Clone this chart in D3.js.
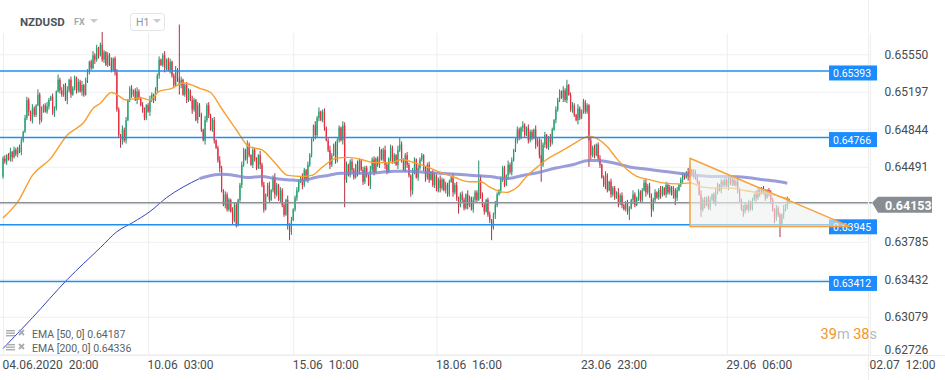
<!DOCTYPE html>
<html><head><meta charset="utf-8">
<script src="https://cdn.jsdelivr.net/npm/d3@7"></script>
<style>body{margin:0;background:#fff;} svg{display:block;font-family:Roboto,"Noto Sans",sans-serif;}</style>
</head><body>
<svg id="chart" width="945" height="380"></svg>
<script>
// ---- data (prices in units of 0.0001) ----
const symbol = "NZDUSD";
const market = "FX";
const interval = "H1";
const firstOpen = 6440;
const closes = [
6457,6454,6460,6456,6463,6458,6465,6461,6467,6463,
6474,6482,6495,6512,6501,6493,6504,6498,6507,6517,
6493,6503,6507,6501,6506,6512,6515,6500,6504,6520,
6531,6521,6517,6526,6512,6521,6531,6517,6523,6533,
6521,6529,6520,6526,6517,6531,6538,6548,6542,6554,
6550,6561,6554,6564,6550,6557,6545,6554,6548,6540,
6551,6538,6503,6479,6474,6484,6474,6493,6512,6523,
6517,6521,6512,6520,6514,6507,6503,6495,6507,6501,
6512,6517,6512,6521,6535,6550,6545,6554,6542,6550,
6540,6548,6535,6526,6540,6533,6526,6531,6517,6526,
6512,6521,6512,6503,6512,6493,6507,6498,6484,6474,
6493,6507,6498,6484,6493,6474,6467,6455,6448,6427,
6413,6423,6409,6418,6407,6399,6413,6394,6418,6432,
6451,6465,6456,6470,6460,6451,6465,6456,6448,6460,
6451,6432,6409,6423,6432,6418,6427,6439,6423,6432,
6418,6427,6413,6404,6418,6394,6388,6399,6409,6420,
6427,6435,6439,6432,6446,6437,6451,6460,6474,6488,
6479,6495,6501,6493,6501,6486,6474,6465,6451,6460,
6470,6455,6474,6486,6474,6488,6437,6451,6441,6454,
6446,6439,6451,6444,6455,6446,6435,6448,6441,6432,
6446,6456,6444,6457,6451,6465,6456,6465,6451,6444,
6457,6467,6454,6460,6451,6465,6470,6456,6446,6460,
6451,6441,6427,6444,6456,6439,6448,6456,6460,6446,
6439,6451,6437,6444,6432,6441,6427,6437,6429,6437,
6427,6432,6423,6435,6439,6425,6432,6420,6413,6423,
6418,6410,6423,6413,6420,6409,6418,6425,6418,6437,
6423,6413,6407,6418,6404,6399,6392,6404,6413,6423,
6427,6437,6448,6432,6441,6451,6444,6455,6465,6474,
6484,6476,6486,6488,6479,6486,6474,6482,6476,6484,
6470,6474,6460,6451,6470,6479,6467,6476,6472,6484,
6493,6503,6512,6520,6514,6521,6512,6526,6517,6503,
6507,6498,6493,6504,6495,6502,6510,6501,6507,6474,
6460,6467,6460,6470,6457,6451,6439,6432,6441,6427,
6435,6423,6429,6420,6425,6415,6422,6413,6409,6415,
6407,6410,6418,6423,6413,6420,6425,6418,6427,6434,
6425,6431,6423,6409,6418,6425,6420,6427,6423,6429,
6423,6432,6425,6430,6423,6427,6420,6427,6432,6437,
6441,6439,6444,6440,6446,6441,6444,6439,6435,6423,
6409,6418,6413,6420,6411,6418,6423,6416,6425,6432,
6427,6435,6432,6437,6431,6439,6434,6437,6432,6435,
6427,6418,6409,6407,6413,6409,6415,6410,6418,6423,
6420,6427,6424,6429,6425,6420,6427,6423,6418,6409,
6401,6410,6404,6394,6404,6409,6412,6418,6415.3];
const wickUp = [
2,3,1,2,4,1,3,2,1,3, 2,1,3,3,2,1,4,2,1,5, 2,3,1,2,4,2,1,3,2,1, 5,2,3,1,2,4,1,3,2,2,
1,3,2,4,1,2,3,1,2,4, 2,3,1,2,12,2,1,3,2,4, 1,2,3,2,1,4,2,3,1,2, 3,1,2,4,2,1,3,2,1,2,
4,2,1,3,2,3,1,2,4,1, 2,3,1,2,4,2,50,3,1,2, 3,2,1,4,2,1,3,2,2,1, 4,2,3,1,2,3,1,2,4,2,
1,3,2,2,1,4,2,3,1,2, 3,2,1,4,2,1,3,2,2,1, 4,2,3,1,2,3,1,2,4,2, 1,3,2,2,1,4,2,3,1,2,
3,2,1,4,2,1,3,2,2,1, 4,2,4,1,2,3,1,2,4,2, 1,3,2,2,1,4,3,3,1,2, 3,2,1,4,2,1,3,2,2,1,
4,2,3,1,2,3,1,2,4,2, 1,3,2,2,1,4,7,3,1,2, 3,2,1,4,2,1,3,2,2,1, 4,2,3,1,2,3,1,2,4,2,
1,3,2,2,1,4,2,3,1,2, 3,2,1,4,2,1,3,2,2,18, 4,2,3,1,2,3,1,2,4,2, 1,3,2,2,1,4,2,3,1,2,
3,2,1,4,2,1,3,2,2,1, 4,2,3,15,2,3,1,2,4,2, 1,3,2,2,1,4,2,5,1,2, 3,2,1,4,2,1,3,2,2,1,
4,2,3,1,2,3,1,2,4,2, 1,3,2,2,1,4,2,3,1,2, 3,2,1,4,2,1,3,2,2,3, 4,2,3,1,2,3,1,2,4,2,
1,3,2,2,1,4,2,3,1,2, 3,2,1,4,5,1,3,2,2,1, 4,2,3,1,2,3,1,2,4,2, 1,3,2,2,1,3,2,3,1,2,
3,2,1,4,2,1,3,2,2,1, 4,2,3,1,2,3,1,2,4,2, 1,3,2,2,1,4,2,3,1];
const wickDn = [
2,2,3,1,2,4,1,2,3,1, 3,2,1,2,4,1,3,2,2,1, 4,2,3,1,2,3,1,2,4,2, 1,3,2,2,1,4,2,3,1,2,
3,2,1,4,2,1,3,2,2,1, 4,2,3,1,2,3,1,2,4,2, 1,3,2,2,7,4,2,3,1,2, 3,2,1,4,2,1,3,2,2,1,
4,2,3,1,2,3,1,2,4,2, 1,3,2,2,1,4,9,3,1,2, 3,2,1,4,2,1,3,2,2,1, 4,2,3,1,2,3,1,2,4,2,
1,3,2,2,1,4,2,2,1,2, 3,2,1,4,2,1,3,2,2,1, 4,2,3,1,2,3,1,2,4,2, 1,3,2,2,1,4,8,3,1,2,
3,2,1,4,2,1,3,2,2,1, 4,2,3,1,2,3,1,2,4,2, 1,3,2,2,1,4,26,3,1,2, 3,2,1,4,2,1,3,2,2,1,
4,2,3,1,2,3,1,2,4,2, 1,3,2,2,1,4,2,3,1,2, 3,2,6,4,2,1,3,2,2,1, 4,2,3,1,2,3,1,2,4,2,
1,3,2,2,1,4,2,3,8,2, 3,2,1,4,2,1,3,2,2,1, 4,2,3,1,2,3,12,2,4,2, 1,3,2,2,1,4,2,3,1,2,
3,2,1,4,2,1,3,2,2,1, 4,2,3,16,2,3,1,2,4,2, 1,3,2,2,1,4,2,3,1,2, 3,2,1,4,2,1,3,2,2,25,
4,2,3,1,2,3,1,2,4,2, 1,3,2,2,1,4,2,3,1,2, 3,8,1,4,2,1,3,2,2,1, 4,2,3,7,2,3,1,2,4,2,
1,3,2,2,1,4,7,3,1,2, 3,2,1,4,2,1,3,2,2,1, 7,2,3,1,2,3,1,2,4,2, 1,3,2,2,1,4,2,3,1,2,
3,2,1,5,2,1,3,2,2,1, 4,2,3,1,2,3,1,2,4,2, 5,3,2,11,1,4,2,3,1];

const ema50Bars = [0,8,16,26,35,44,49,53,59,62,67,75,80,85,92,98,103,107,113,119,127,134,141,148,155,163,168,174,181,188,195,202,211,217,224,231,238,246,254,260,265,270,274,280,285,291,296,303,310,316,319,323,329,334,340,345,352,359,367,374,381,389,396,403,410,417,423,428];
const ema50 = [6401,6416,6441,6457,6479,6491,6504,6509,6519,6517,6512,6514,6512,6520,6523,6528,6526,6523,6519,6504,6484,6468,6465,6453,6441,6440,6441,6449,6457,6458,6456,6453,6453,6456,6453,6449,6444,6439,6435,6435,6430,6426,6425,6430,6440,6449,6456,6463,6470,6476,6478,6476,6468,6457,6446,6440,6437,6434,6433,6434,6430,6429,6429,6427,6425,6424,6421,6418.7];
const ema200Bars = [0,16,35,53,62,71,80,89,98,107,111,119,126,133,141,148,155,163,170,177,184,192,199,206,213,221,229,238,247,256,265,274,283,292,301,310,319,323,332,341,350,359,368,378,386,396,405,414,423,427];
const ema200 = [6278,6307,6343,6373,6388,6397,6407,6420,6430,6438,6440,6442,6441,6439,6440,6438,6437,6436,6439,6441,6443,6443,6443,6444,6445,6445,6444,6443,6442,6441,6440,6438,6441,6444,6448,6451,6455,6455,6453,6449,6447,6445,6443,6441,6440,6440,6439,6437,6435,6433.6];
const legendLabels = ["EMA [50, 0] 0.64187", "EMA [200, 0] 0.64336"];

const priceTicks = [0.65550,0.65197,0.64844,0.64491,0.64138,0.63785,0.63432,0.63079,0.62726];
const hiddenTick = 0.64138; // covered by the last-price label in the reference
const timeTickBars = [0,79,158,236,315,394,472];
const timeTickLabels = ["04.06.2020  20:00","10.06  03:00","15.06  10:00","18.06  16:00","23.06  23:00","29.06  06:00","02.07  12:00"];
const levels = [0.65393,0.64766,0.63945,0.63412];
const lastPrice = 0.64153;
const triBars = [374,374,461];
const triPrices = [0.64571,0.6393,0.6393];
const countdown = ["39","m"," 38","s"];

// ---- drawing ----
const svg = d3.select("#chart");
const x = d3.scaleLinear().domain([0,472]).range([3,870]);
const y = d3.scaleLinear().domain([0.62726,0.65550]).range([354.3,54.3]);
const P = v => v/10000;
const axisX = 868.5;

// grid
const gy = svg.append("g")
  .call(d3.axisRight(y).tickValues(priceTicks).tickSize(axisX).tickFormat(""));
gy.select(".domain").remove();
gy.selectAll("line").attr("stroke","#f0f0f0");
const gx = svg.append("g").attr("transform","translate(0,33)")
  .call(d3.axisBottom(x).tickValues(timeTickBars).tickSize(322).tickFormat(""));
gx.select(".domain").remove();
gx.selectAll("line").attr("stroke","#eeeeee");

// candles
const bars = closes.map((c,i)=>{
  const o = i ? closes[i-1] : firstOpen;
  return {i, o, c, h: Math.max(o,c)+wickUp[i], l: Math.min(o,c)-wickDn[i]};
});
const cg = svg.append("g");
cg.selectAll("line.w").data(bars).join("line")
  .attr("x1",d=>x(d.i)).attr("x2",d=>x(d.i))
  .attr("y1",d=>y(P(d.h))).attr("y2",d=>y(P(d.l)))
  .attr("stroke",d=>d.c>=d.o?"#0c7a55":"#a8182c").attr("stroke-width",0.9);
cg.selectAll("rect.b").data(bars).join("rect")
  .attr("x",d=>x(d.i)-0.6).attr("width",1.2)
  .attr("y",d=>y(P(Math.max(d.o,d.c))))
  .attr("height",d=>Math.max(1,y(P(Math.min(d.o,d.c)))-y(P(Math.max(d.o,d.c)))))
  .attr("fill",d=>d.c>=d.o?"#1aa56c":"#f2283c");

// EMAs
const line = d3.line().x(d=>x(d[0])).y(d=>y(P(d[1]))).curve(d3.curveMonotoneX);
const e200 = ema200Bars.map((b,i)=>[b,ema200[i]]);
svg.append("path").attr("d",line(e200.filter(d=>d[0]<=107)))
  .attr("fill","none").attr("stroke","#3545b8").attr("stroke-width",1);
svg.append("path").attr("d",line(e200.filter(d=>d[0]>=107)))
  .attr("fill","none").attr("stroke","#7f84cf").attr("stroke-opacity",0.8).attr("stroke-width",3);
svg.append("path").attr("d",line(ema50Bars.map((b,i)=>[b,ema50[i]])))
  .attr("fill","none").attr("stroke","#f7a031").attr("stroke-width",1.4);

// level lines
svg.selectAll("line.lv").data(levels).join("line")
  .attr("x1",0).attr("x2",829).attr("y1",d=>y(d)).attr("y2",d=>y(d))
  .attr("stroke","#1f8ff0").attr("stroke-width",1.5);
// last price line
svg.append("line").attr("x1",0).attr("x2",872).attr("y1",y(lastPrice)).attr("y2",y(lastPrice))
  .attr("stroke","#8a9096").attr("stroke-width",1.5);

// right axis
svg.append("line").attr("x1",axisX).attr("x2",axisX).attr("y1",0).attr("y2",380).attr("stroke","#eeeeee");
svg.append("line").attr("x1",0).attr("x2",945).attr("y1",355.5).attr("y2",355.5).attr("stroke","#eeeeee");
const ay = svg.append("g").attr("transform",`translate(${axisX},0)`)
  .call(d3.axisRight(y).tickValues(priceTicks.filter(v=>v!==hiddenTick)).tickSize(0).tickPadding(16).tickFormat(d3.format(".5f")));
ay.select(".domain").remove();
ay.selectAll("text").attr("font-size",12).attr("fill","#474b4f").attr("font-family","Roboto")
  .attr("dy",d=>d===0.62726?"-0.1em":"0.32em");
const ax = svg.append("g").attr("transform","translate(0,355)")
  .call(d3.axisBottom(x).tickValues(timeTickBars).tickSize(0).tickPadding(5).tickFormat((d,i)=>timeTickLabels[i]));
ax.select(".domain").remove();
ax.selectAll("text").attr("font-size",12).attr("fill","#474b4f").attr("font-family","Roboto")
  .attr("text-anchor","start").attr("x",-1).style("white-space","pre");

// level labels
const lg = svg.append("g").selectAll("g").data(levels).join("g")
  .attr("transform",d=>`translate(829,${y(d)})`);
lg.append("rect").attr("x",0).attr("y",-5.5).attr("width",48).attr("height",15).attr("fill","#1a8cff");
lg.append("text").attr("x",4).attr("y",6).attr("font-size",10.5).attr("fill","#fff")
  .attr("font-family","Roboto").text(d=>d.toFixed(5));

// last price label
const ly = y(lastPrice);
svg.append("path").attr("d",`M872,${ly} L878,${ly-6} L932,${ly-6} L932,${ly+10} L878,${ly+10} Z`)
  .attr("fill","#878d92");
svg.append("text").attr("x",885).attr("y",ly+7.5).attr("font-size",12.5).attr("font-weight","bold")
  .attr("fill","#fff").attr("font-family","Roboto").text(lastPrice.toFixed(5));

// triangle annotation
const tri = triBars.map((b,i)=>[x(b),y(triPrices[i])]);
svg.append("path").attr("d","M"+tri.map(p=>p.join(",")).join("L")+"Z")
  .attr("fill","#eef2f1").attr("fill-opacity",0.6)
  .attr("stroke","#f7a23b").attr("stroke-width",1.5).attr("stroke-linejoin","round");

// header
svg.append("text").attr("x",20).attr("y",26).attr("font-size",11.5).attr("font-weight","bold")
  .attr("fill","#4d5358").text(symbol);
svg.append("text").attr("x",74).attr("y",25).attr("font-size",9).attr("font-weight","bold")
  .attr("fill","#a3aab0").text(market);
svg.append("path").attr("d","M90,19 L98,19 L94,23 Z").attr("fill","#c8cbce");
svg.append("rect").attr("x",130.5).attr("y",13.5).attr("width",34).attr("height",17).attr("rx",3)
  .attr("fill","#fff").attr("stroke","#e2e4e6");
svg.append("text").attr("x",136).attr("y",26).attr("font-size",10.5).attr("fill","#8f959a").text(interval);
svg.append("path").attr("d","M153,19 L161,19 L157,23 Z").attr("fill","#c8cbce");

// legend
const leg = svg.append("g").selectAll("g").data(legendLabels).join("g")
  .attr("transform",(d,i)=>`translate(0,${334+i*14})`);
leg.each(function(){
  const g = d3.select(this);
  [-4,-1.5,1].forEach(dy=>g.append("rect").attr("x",6).attr("y",dy).attr("width",9).attr("height",1.4).attr("fill","#a8acb0"));
  g.append("path").attr("d","M19,-4 L24,1 M24,-4 L19,1").attr("stroke","#a8acb0").attr("stroke-width",1.8);
});
leg.append("text").attr("x",32).attr("y",4).attr("font-size",10.5).attr("fill","#5c6166").text(d=>d);

// countdown
const cd = svg.append("text").attr("x",877).attr("y",339).attr("text-anchor","end")
  .attr("font-size",14.5).style("white-space","pre");
cd.selectAll("tspan").data(countdown).join("tspan")
  .attr("fill",(d,i)=>i%2===0?"#f7931e":"#b7babd").text(d=>d);
</script>
</body></html>
